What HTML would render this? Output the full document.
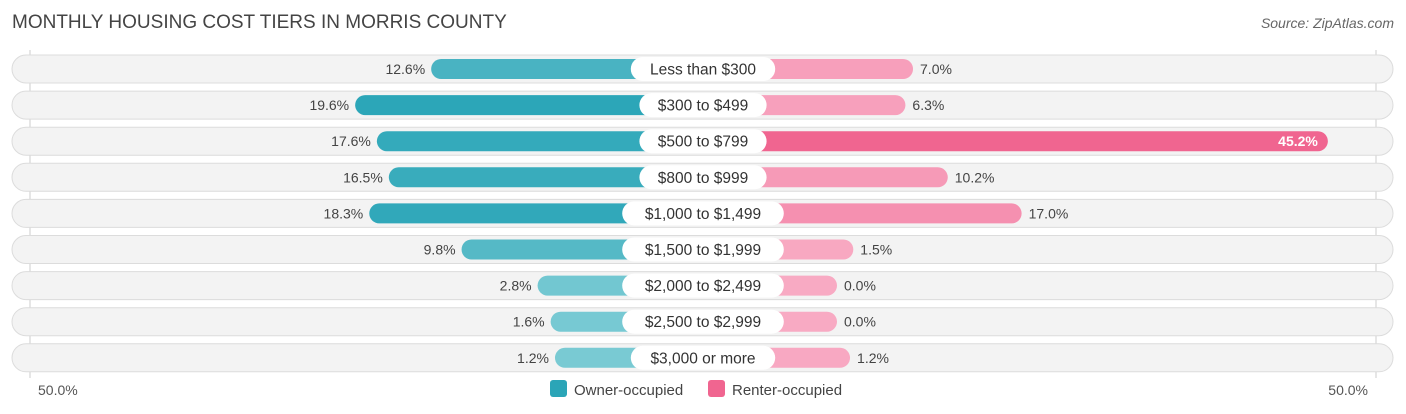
<!DOCTYPE html>
<html><head><meta charset="utf-8"><style>
body{margin:0;background:#fff;font-family:"Liberation Sans",sans-serif;}
svg{display:block}
</style></head><body>
<svg id="c" width="1406" height="414" xmlns="http://www.w3.org/2000/svg">
<text x="12" y="28" font-size="19" fill="#444">MONTHLY HOUSING COST TIERS IN MORRIS COUNTY</text>
<text x="1394" y="28" font-size="14" fill="#666" font-style="italic" text-anchor="end">Source: ZipAtlas.com</text>
<line x1="30" y1="50" x2="30" y2="378" stroke="#ccc"/>
<line x1="1376" y1="50" x2="1376" y2="378" stroke="#ccc"/>
<g id="rows"></g>
<text x="38" y="395" font-size="14" fill="#555">50.0%</text>
<text x="1368" y="395" font-size="14" fill="#555" text-anchor="end">50.0%</text>
<rect x="550" y="380" width="17" height="17" rx="3" fill="#2ba5b7"/>
<text x="574" y="395" font-size="15" fill="#444">Owner-occupied</text>
<rect x="708" y="380" width="17" height="17" rx="3" fill="#f06590"/>
<text x="732" y="395" font-size="15" fill="#444">Renter-occupied</text>
</svg>
<script>
const categories=["Less than $300","$300 to $499","$500 to $799","$800 to $999","$1,000 to $1,499","$1,500 to $1,999","$2,000 to $2,499","$2,500 to $2,999","$3,000 or more"];
const ownerValues=[12.6,19.6,17.6,16.5,18.3,9.8,2.8,1.6,1.2];
const renterValues=[7.0,6.3,45.2,10.2,17.0,1.5,0.0,0.0,1.2];
const NS="http://www.w3.org/2000/svg";
const g=document.getElementById('rows');
const scale=10.86, ownerZero=568, renterZero=837, center=703;
const ox=v=>ownerZero-v*scale, rx=v=>renterZero+v*scale;
const rowY=i=>69+i*36.1;
function mix(a,b,t){return 'rgb('+a.map((x,k)=>Math.round(x+(b[k]-x)*t)).join(',')+')';}
function mk(tag,attrs){const e=document.createElementNS(NS,tag);for(const k in attrs)e.setAttribute(k,attrs[k]);g.appendChild(e);return e;}
const maxV=Math.max(...ownerValues,...renterValues);
categories.forEach((c,i)=>{
  const y=rowY(i);
  const bg=mk('rect',{x:12,y:y-14,width:1381,height:28,rx:14,fill:'#f3f3f3',stroke:'#dcdcdc'});
  
  
  const ov=ownerValues[i], rv=renterValues[i];
  const ob=mk('rect',{x:ox(ov),y:y-10,width:center-ox(ov),height:20,rx:10,fill:mix([126,204,213],[42,165,183],Math.min(1,ov/20))});
  
  
  const rb=mk('rect',{x:center,y:y-10,width:rx(rv)-center,height:20,rx:10,fill:mix([248,170,195],[240,101,144],Math.min(1,rv/maxV))});
  
  
  const tw=c.length*8.6+24;
  const pill=mk('rect',{x:center-tw/2,y:y-12,width:tw,height:24,rx:12,fill:'#fff'});
  
  
  const lt=mk('text',{x:center,y:y+5.5,'font-size':15.5,fill:'#333','text-anchor':'middle'});lt.textContent=c;
  
  
  const ot=mk('text',{x:ox(ov)-6,y:y+5,'font-size':14,fill:'#444','text-anchor':'end'});ot.textContent=ov.toFixed(1)+'%';
  
  
  let rt;
  if(rv>30){rt=mk('text',{x:rx(rv)-10,y:y+5,'font-size':14,fill:'#fff','font-weight':'bold','text-anchor':'end'});}
  else{rt=mk('text',{x:rx(rv)+7,y:y+5,'font-size':14,fill:'#444'});}
  rt.textContent=rv.toFixed(1)+'%';
  
  
});
</script>
</body></html>
